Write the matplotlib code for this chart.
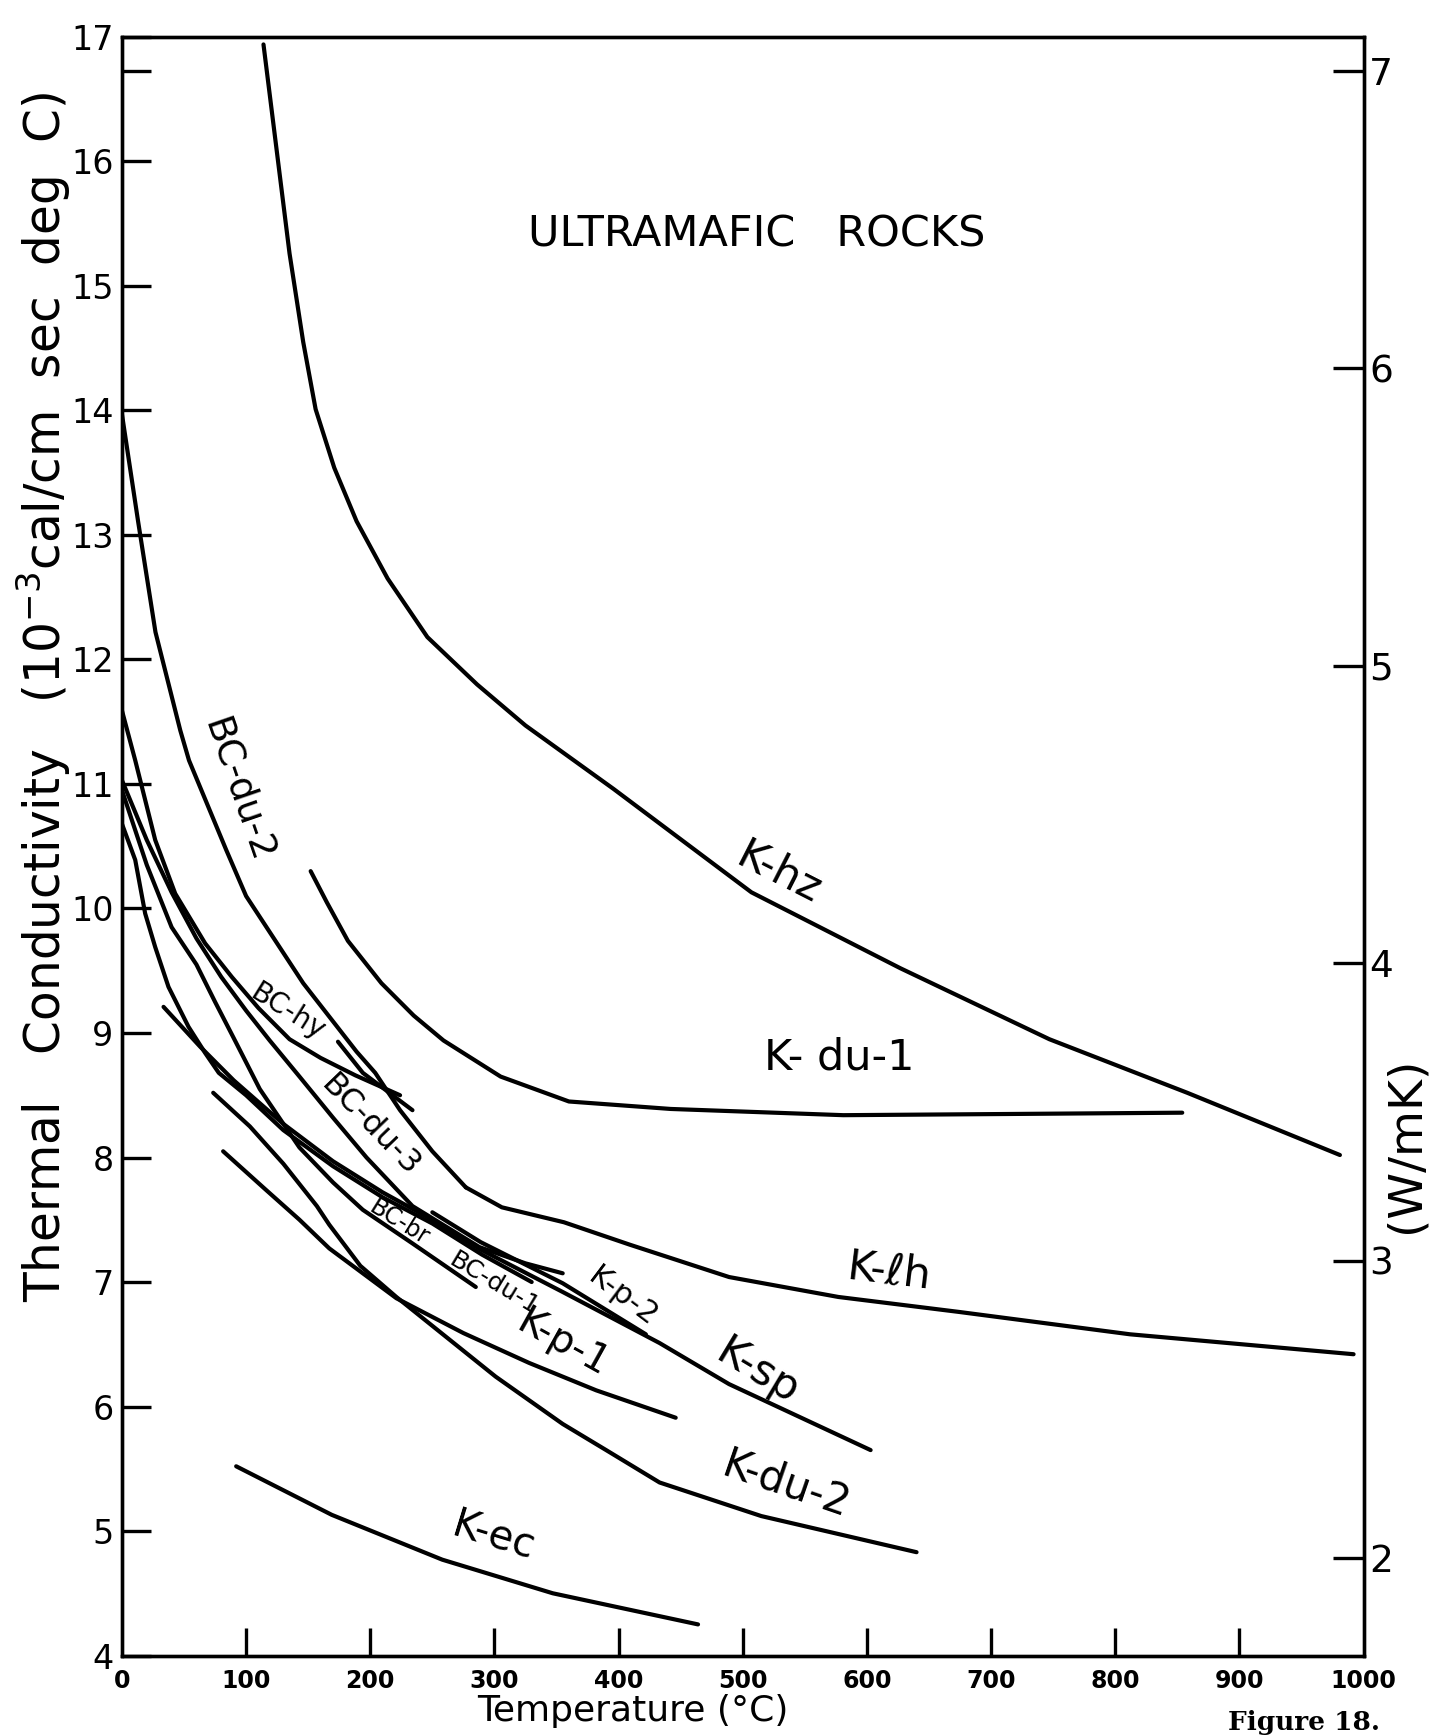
import matplotlib
matplotlib.use("Agg")
import matplotlib.pyplot as plt

# Thermal conductivity of ultramafic rocks (10^-3 cal/cm sec deg C) vs temperature (deg C)
# values

# K curves
k_hz_t = [114, 126, 135, 146, 156, 171, 189, 214, 246, 286, 325, 396, 507, 627, 747, 858, 981]
k_hz_k = [16.94, 15.98, 15.26, 14.55, 14.01, 13.54, 13.11, 12.65, 12.18, 11.80, 11.47, 10.96, 10.13, 9.52, 8.95, 8.52, 8.02]

k_du1_t = [152, 165, 182, 209, 235, 259, 305, 360, 442, 581, 720, 854]
k_du1_k = [10.30, 10.05, 9.74, 9.40, 9.14, 8.94, 8.65, 8.45, 8.39, 8.34, 8.35, 8.36]

k_lh_t = [277, 306, 356, 409, 489, 577, 674, 812, 992]
k_lh_k = [7.76, 7.60, 7.48, 7.30, 7.04, 6.88, 6.76, 6.58, 6.42]

k_sp_t = [33.5, 63, 90, 130, 170, 210, 250, 289, 355, 433, 489, 603]
k_sp_k = [9.21, 8.89, 8.62, 8.27, 7.97, 7.72, 7.50, 7.26, 6.92, 6.51, 6.18, 5.65]

k_p2_t = [250, 289, 355, 422]
k_p2_k = [7.56, 7.32, 6.99, 6.58]

k_p1_t = [81.5, 116, 143, 167, 221, 275, 328, 382, 446]
k_p1_k = [8.05, 7.74, 7.50, 7.27, 6.87, 6.59, 6.35, 6.13, 5.91]

k_du2_t = [73.5, 103, 130, 157, 167, 192, 221, 261, 301, 355, 390, 433, 515, 640]
k_du2_k = [8.52, 8.25, 7.95, 7.61, 7.46, 7.13, 6.88, 6.56, 6.24, 5.86, 5.65, 5.39, 5.12, 4.83]

k_ec_t = [92, 169, 258, 347, 464]
k_ec_k = [5.52, 5.13, 4.77, 4.50, 4.25]

# BC curves
bc_du2_t = [0, 13, 27, 47, 54, 84, 100, 146, 189, 204, 224, 250, 277]
bc_du2_k = [13.97, 13.11, 12.22, 11.43, 11.19, 10.47, 10.10, 9.40, 8.85, 8.68, 8.38, 8.05, 7.76]

bc_hy_t = [0, 10.7, 26.8, 42.9, 67, 88.5, 110, 135, 160, 188, 224]
bc_hy_k = [11.59, 11.19, 10.55, 10.12, 9.72, 9.45, 9.20, 8.95, 8.80, 8.66, 8.50]

short_t = [174, 194, 234]
short_k = [8.93, 8.68, 8.38]

bc_du3_t = [0, 20, 40, 60, 80, 100, 119, 143, 170, 197, 234, 288, 325, 355]
bc_du3_k = [11.03, 10.55, 10.13, 9.76, 9.45, 9.18, 8.94, 8.65, 8.32, 8.00, 7.61, 7.28, 7.15, 7.07]

bc_br_t = [0, 20, 40, 60, 75, 90, 111, 143, 170, 194, 234, 285]
bc_br_k = [10.95, 10.35, 9.85, 9.55, 9.25, 8.96, 8.55, 8.08, 7.80, 7.58, 7.31, 6.96]

bc_du1_t = [0, 10.7, 18.7, 26.8, 37.5, 53.6, 67, 78, 100, 130, 170, 210, 250, 290, 330]
bc_du1_k = [10.68, 10.39, 9.96, 9.69, 9.37, 9.05, 8.84, 8.68, 8.50, 8.22, 7.93, 7.68, 7.47, 7.22, 7.00]

curves = [
    (k_hz_t, k_hz_k), (k_du1_t, k_du1_k), (k_lh_t, k_lh_k), (k_sp_t, k_sp_k),
    (k_p2_t, k_p2_k), (k_p1_t, k_p1_k), (k_du2_t, k_du2_k), (k_ec_t, k_ec_k),
    (bc_du2_t, bc_du2_k), (bc_hy_t, bc_hy_k), (short_t, short_k),
    (bc_du3_t, bc_du3_k), (bc_br_t, bc_br_k), (bc_du1_t, bc_du1_k),
]

# curve labels: text, temperature, conductivity, rotation, size
label_text = ["K-hz", "K- du-1", "K-ℓh", "K-sp", "K-p-2", "K-p-1", "K-du-2", "K-ec",
              "BC-du-2", "BC-hy", "BC-du-3", "BC-br", "BC-du-1"]
label_t = [529, 578, 618, 512, 403, 355, 535, 299, 93, 133, 200, 223, 300]
label_k = [10.28, 8.80, 7.08, 6.28, 6.88, 6.51, 5.37, 4.96, 10.95, 9.17, 8.25, 7.48, 6.99]
label_rot = [-27, 0, -7, -31, -37, -29, -19, -17, -71, -32, -46, -32, -31]
label_size = [31, 31, 31, 31, 22, 28, 30, 29, 27, 20, 23, 17, 18]

x_ticks = [100, 200, 300, 400, 500, 600, 700, 800, 900]
x_ticklabels = ["0", "100", "200", "300", "400", "500", "600", "700", "800", "900", "1000"]
y_ticks = list(range(4, 18))
w_ticks = [2, 3, 4, 5, 6, 7]
CAL_TO_W = 0.4184  # 10^-3 cal/cm s C -> W/mK

plt.rcParams['font.family'] = ['DejaVu Sans']

fig = plt.figure(figsize=(14.38, 17.35), dpi=100)
ax = fig.add_axes([0.0848, 0.0458, 0.8634, 0.9329])

for t, k in curves:
    ax.plot(t, k, color='black', lw=3.0, solid_capstyle='round', solid_joinstyle='round')

for txt, t, k, r, s in zip(label_text, label_t, label_k, label_rot, label_size):
    ax.text(t, k, txt, rotation=r, rotation_mode='anchor', ha='center', va='center',
            fontsize=s, color='black')

ax.text(511, 15.41, "ULTRAMAFIC   ROCKS", ha='center', va='center', fontsize=31)

ax.set_xlim(0, 1000)
ax.set_ylim(4, 17)
for sp in ax.spines.values():
    sp.set_linewidth(2.4)

ax.set_xticks([0] + x_ticks + [1000])
ax.set_xticklabels(x_ticklabels, fontsize=17, fontweight='bold')
ax.tick_params(axis='x', direction='in', length=20, width=2.4, pad=10)
ax.set_yticks(y_ticks)
ax.set_yticklabels([str(v) for v in y_ticks], fontsize=24)
ax.tick_params(axis='y', direction='in', length=21, width=2.4, pad=6)
ax.set_yticks([7 / CAL_TO_W], minor=True)
ax.tick_params(axis='y', which='minor', direction='in', length=21, width=2.4)
# corner ticks are only labelled
for i, tk in enumerate(ax.xaxis.get_major_ticks()):
    if i in (0, len(x_ticklabels) - 1):
        tk.tick1line.set_visible(False)

ax2 = ax.twinx()
ax2.set_ylim(4 * CAL_TO_W, 17 * CAL_TO_W)
ax2.set_yticks(w_ticks)
ax2.set_yticklabels([str(v) for v in w_ticks], fontsize=27)
ax2.tick_params(axis='y', direction='in', length=22, width=2.4, pad=4)
for sp in ax2.spines.values():
    sp.set_linewidth(2.4)

fig.text(0.030, 0.598,
         "Thermal   Conductivity   (10$^{-3}$cal/cm  sec  deg  C)",
         rotation=90, ha='center', va='center', fontsize=35)
fig.text(0.978, 0.34, "(W/mK)", rotation=90, ha='center', va='center', fontsize=34)
fig.text(0.44, 0.014, "Temperature (°C)", ha='center', va='center', fontsize=26)
fig.text(0.907, 0.007, "Figure 18.", ha='center', va='center', fontsize=19,
         family='DejaVu Serif', fontweight='bold')

fig.savefig("out.png", dpi=100)
